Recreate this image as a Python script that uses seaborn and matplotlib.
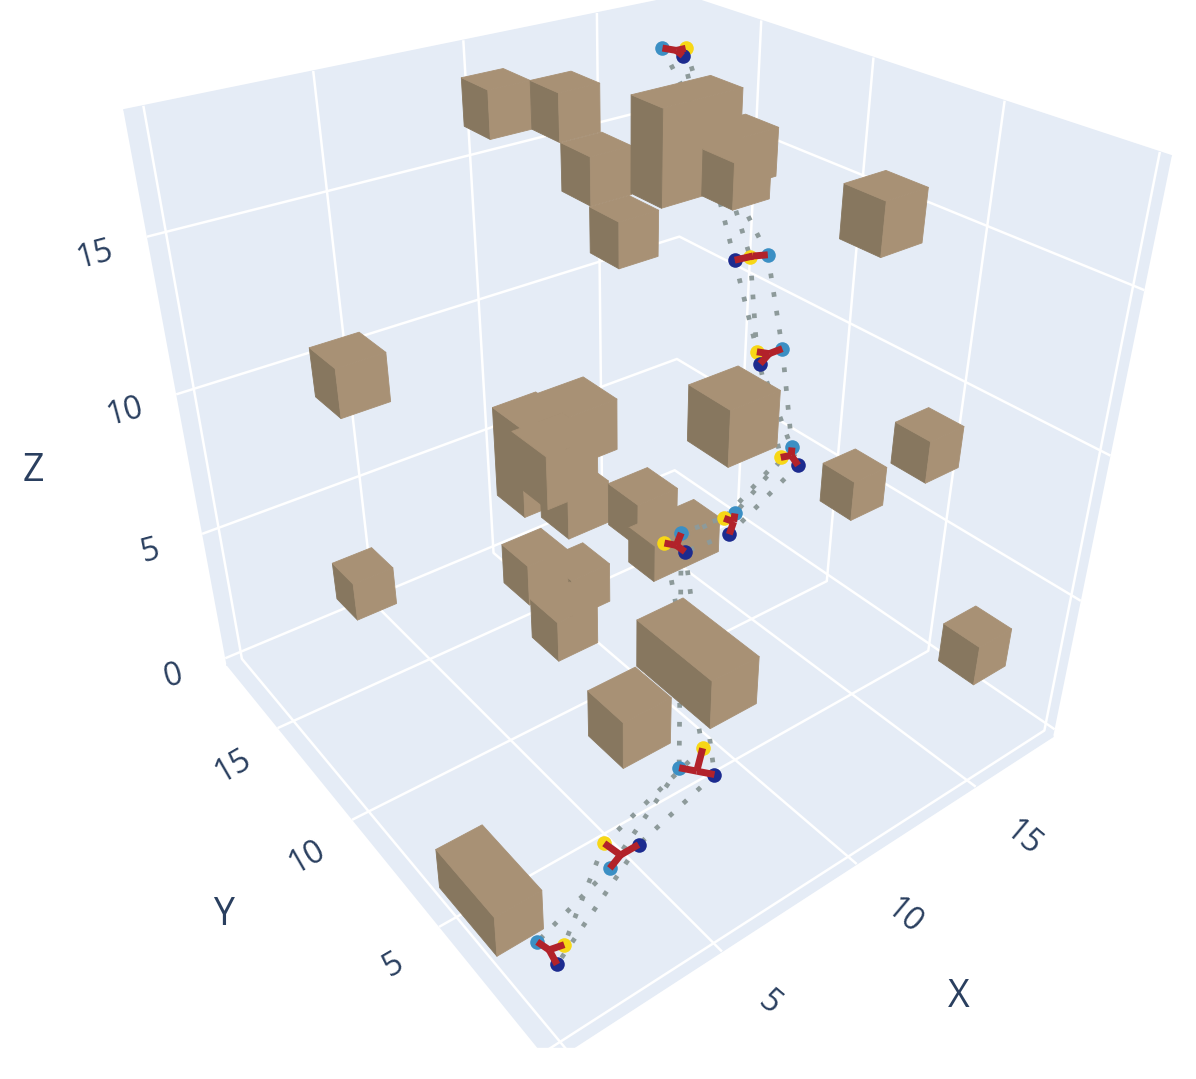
import numpy as np
import seaborn as sns
import matplotlib
matplotlib.use('Agg')
import matplotlib.pyplot as plt
from matplotlib.patches import Rectangle
from mpl_toolkits.mplot3d import proj3d
from mpl_toolkits.mplot3d.art3d import Poly3DCollection

# boxes, listed in the order they get painted (far to near)
cube_x = [12.8,1.5,3.6,6.2,17.5,17.7,17.3,9.5,11.0,10.7,11.5,14.4,12.4,15.1,5.2,6.2,7.8,3.5,8.4,7.1,6.9,9.3,13.3,3.4,5.1,0.25]
cube_y = [3.6,12.0,17.3,1.6,8.1,5.3,2.0,16.8,15.3,13.3,13.0,11.0,12.1,12.0,6.6,10.5,10.6,5.1,11.4,11.9,10.0,9.1,13.4,1.9,0.6,3.35]
cube_z = [16.1,11.6,0.6,13.4,3.8,6.6,0.9,16.2,16.2,14.9,12.8,15.3,14.8,14.1,11.3,7.3,5.8,11.5,2.0,2.85,1.9,5.7,0.1,5.5,6.8,-0.5]
cube_nx = [1,1,1,1,1,1,1,1,1,1,1,1,2,1,1,1,1,1,1,1,1,1,2,1,1,1]
cube_ny = [1,1,1,1,1,1,1,1,1,1,1,1,1,1,1,1,1,1,1,1,1,1,1,1,2,2]
cube_nz = [1,1,1,1,1,1,1,1,1,1,1,1,2,1,1,2,1,1,1,1,1,1,1,1,1,1]
voxel = 1.5

# molecule frames, top one first
mol_z = [17,14,12,10,8,7,3,2,1]
blue_x = [17.7,13.9,13.0,11.9,10.5,9.6,6.2,3.1,0.7]
blue_y = [18.9,9.0,7.2,5.4,6.1,7.4,3.1,2.1,2.0]
yellow_x = [18.3,13.4,12.3,11.3,10.1,8.9,7.2,3.5,1.2]
yellow_y = [18.4,9.2,7.5,5.2,6.1,7.3,3.3,2.9,1.5]
navy_x = [17.7,12.9,11.9,11.4,9.7,9.1,6.8,4.2,0.7]
navy_y = [17.8,9.3,6.9,4.6,5.4,6.6,2.3,2.3,1.1]
center_x = [17.9,13.5,12.5,11.6,10.2,9.1,6.5,3.6,0.8]
center_y = [18.4,9.2,7.2,5.1,5.8,7.0,2.7,2.3,1.6]

ticks = [0,5,10,15]
xy_labels = ['5','10','15']
z_labels = ['0','5','10','15']

sns.set_theme(style='white', rc={'grid.color':'white','grid.linewidth':1.8})
plt.rcParams['font.family'] = ['Open Sans','DejaVu Sans']
ink = '#2a3f5f'
pane = '#e5ecf6'
light, dark = '#a89175', '#87775f'
atom_blue, atom_yellow, atom_navy, bond_red = '#3b8fc4','#f7d716','#1c2b8f','#b2222a'
trail = '#8d9a9a'

W, H = 1196, 1079
scale, tx, ty = 5982.7, 627.1, 449.4
side = 0.185*scale
fig = plt.figure(figsize=(W/100,H/100), dpi=100)
ax = fig.add_axes([(tx-0.095*scale)/W, 1-(ty+0.095*scale)/H, side/W, side/H], projection='3d')
ax.computed_zorder = False
ax.patch.set_alpha(0)

def box_faces(x,y,z,dx,dy,dz):
    return [[(x,y,z),(x,y+dy,z),(x,y+dy,z+dz),(x,y,z+dz)],
            [(x,y,z),(x+dx,y,z),(x+dx,y,z+dz),(x,y,z+dz)],
            [(x,y,z+dz),(x+dx,y,z+dz),(x+dx,y+dy,z+dz),(x,y+dy,z+dz)]]

for i in range(len(cube_x)):
    faces = box_faces(cube_x[i],cube_y[i],cube_z[i],cube_nx[i]*voxel,cube_ny[i]*voxel,cube_nz[i]*voxel)
    ax.add_collection3d(Poly3DCollection(faces, facecolors=[dark,light,light], edgecolors=[dark,light,light],
                                         linewidths=0.6, zorder=10+i))

# segments hidden by the boxes go under them
under = {0,2,5}
for xs,ys in [(blue_x,blue_y),(yellow_x,yellow_y),(navy_x,navy_y)]:
    for i in range(len(mol_z)-1):
        ax.plot(xs[i:i+2], ys[i:i+2], mol_z[i:i+2], color=trail, lw=3.4, ls=(0,(1,3)),
                zorder=5 if i in under else 60)

for xs,ys,c in [(blue_x,blue_y,atom_blue),(yellow_x,yellow_y,atom_yellow),(navy_x,navy_y,atom_navy)]:
    ax.scatter(xs, ys, mol_z, color=c, s=110, depthshade=False, linewidths=0, zorder=70)
    for i in range(len(mol_z)):
        ax.plot([center_x[i],xs[i]],[center_y[i],ys[i]],[mol_z[i],mol_z[i]],color=bond_red,lw=5,
                solid_capstyle='butt',zorder=80)

xlim, ylim, zlim = (-0.55,18.6), (-0.35,18.9), (-0.3,18.6)
ax.set_xlim(xlim); ax.set_ylim(ylim); ax.set_zlim(zlim)
ax.view_init(elev=31.719, azim=-127.281)
ax.set_proj_type('persp', focal_length=0.245)
ax.set_box_aspect((1,0.986,0.993))

ax.set_xticks(ticks); ax.set_yticks(ticks); ax.set_zticks(ticks)
ax.set_xticklabels([]); ax.set_yticklabels([]); ax.set_zticklabels([])
for axis in (ax.xaxis, ax.yaxis, ax.zaxis):
    axis.set_pane_color(pane)
    axis.pane.set_edgecolor(pane)
    axis.line.set_color((0,0,0,0))
    axis._axinfo['tick'].update(inward_factor=0, outward_factor=0)
ax.grid(True)

# tick labels sit at the axis edges, turned like the scene
M = ax.get_proj()
def tick_text(x, y, z, label, rot, dx, dy):
    u, v, _ = proj3d.proj_transform(x, y, z, M)
    ax.annotate(label, (u,v), xytext=(dx,dy), textcoords='offset pixels', rotation=rot, fontsize=23,
                color=ink, ha='center', va='center', annotation_clip=False, zorder=90)

for t, lab in zip(ticks[1:], xy_labels):
    tick_text(t, ylim[0], zlim[0], lab, -40, 47, -52)
    tick_text(xlim[0], t, zlim[0], lab, 30, -45, -38)
for t, lab in zip(ticks, z_labels):
    tick_text(xlim[0], ylim[1], t, lab, 15, -52, -18)

for lab, px, py in [('X',959,997),('Y',224,915),('Z',33,471)]:
    fig.text(px/W, 1-py/H, lab, fontsize=27, color=ink, ha='center', va='center')

fig.add_artist(Rectangle((0,0),1,(H-1048)/H,transform=fig.transFigure,color='white',zorder=100))
fig.savefig('out.png', dpi=100)
